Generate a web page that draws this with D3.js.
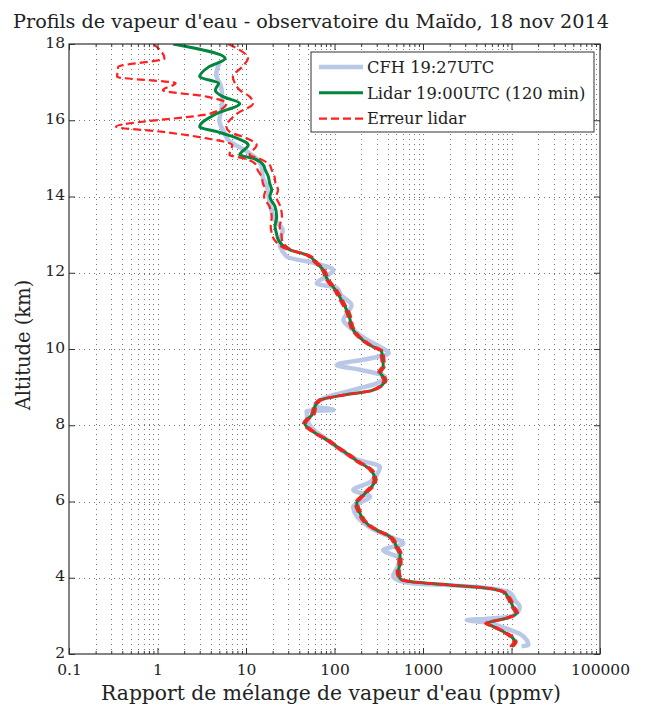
<html>
<head>
<script src="https://d3js.org/d3.v7.min.js"></script>
<style>
body { margin:0; background:#fff; }
text { font-family: "DejaVu Serif", serif; fill:#222; }
</style>
</head>
<body>
<script>
// altitude levels (km) of the lidar profile
var lidarAlt = [18.00,17.62,17.40,17.14,16.97,16.79,16.62,16.44,16.18,15.83,15.70,15.53,15.35,15.09,15.00,
  14.83,14.70,14.52,14.35,14.17,14.00,13.73,13.47,13.21,13.05,12.86,12.60,12.47,12.25,12.07,11.85,11.50,
  11.20,10.94,10.50,10.10,9.93,9.54,9.40,9.19,8.92,8.79,8.66,8.49,8.31,8.05,7.83,7.57,7.44,7.20,7.07,6.81,
  6.55,6.39,6.21,5.95,5.69,5.47,5.25,5.08,4.81,4.64,4.38,4.16,3.98,3.90,3.81,3.74,3.63,3.50,3.24,3.07,
  2.94,2.80,2.72,2.59,2.45,2.32,2.19];
// lidar mixing ratio (ppmv)
var lidarVal = [1.5,5.8,3.8,3.0,4.9,4.5,5.5,8.5,4.7,3.0,4.7,7.9,10.6,8.5,12,
  15.7,16.5,17.9,18.5,19.5,18.6,21.3,22.2,21.3,22,23.2,31.4,48.5,63,75,82,106,
  125,143,163,252,341,356,326,372,274,126,68.5,60,57.5,46,57.5,89,106,150,178,263,
  287,263,221,178,194,221,300,424,504,550,550,525,550,713,2020,4800,8070,9130,10400,11400,
  8830,5250,6240,8070,10000,10960,10000];
// lidar error envelope, lower and upper bounds (ppmv)
var errLow = [0.9,1.2,0.36,0.35,1.6,1.15,3.6,6.0,4.0,0.34,1.1,3.5,7.0,6.5,9.5,
  13,13.5,15,15.5,16.5,16,18.5,19.5,19,19.5,21,30.1,46.6,60.5,72,78.7,101.8,
  120,137,156.5,242,327,342,313,357,263,121,65.8,57.6,55.2,44.2,55.2,85.4,101.8,144,171,252,
  276,252,212,171,186,212,288,407,484,528,528,504,528,684,1940,4610,7750,8760,9980,10940,
  8480,5040,5990,7750,9600,10520,9600];
var errHigh = [6.3,10.5,9.0,7.1,7.5,8.5,11,12,8.0,6.0,6.5,10.1,13.2,11,14,
  18.5,19.5,21,21.5,23,22,24.5,25.5,24,25,25.5,32.7,50.4,65.5,78,85.3,110.2,
  130,149,169.5,262,355,370,339,387,285,131,71.2,62.4,59.8,47.8,59.8,92.6,110.2,156,185,274,
  298,274,230,185,202,230,312,441,524,572,572,546,572,742,2100,4990,8390,9500,10820,11860,
  9180,5460,6490,8390,10400,11400,10400];
// CFH sonde profile
var cfhAlt = [17.50,17.20,16.90,16.60,16.30,16.00,15.70,15.45,15.20,15.00,14.80,14.50,14.30,14.00,13.70,13.40,
  13.12,12.80,12.42,12.25,12.07,11.90,11.72,11.60,11.40,11.15,10.95,10.76,10.50,10.25,10.06,9.89,9.75,9.58,
  9.45,9.27,9.10,8.97,8.80,8.66,8.50,8.40,8.37,8.10,7.90,7.60,7.40,7.10,6.91,6.70,6.50,6.30,6.13,5.86,
  5.60,5.30,5.10,4.90,4.73,4.50,4.30,4.03,3.92,3.85,3.80,3.74,3.59,3.40,3.24,3.00,2.92,2.89,2.82,2.70,
  2.53,2.35,2.24,2.20];
var cfhVal = [5.0,4.6,5.2,5.4,5.3,5.0,5.6,6.5,10,13,15,15.5,17,18,19,21,
  26,24,29,60,97,80,63,106,120,156,140,126,163,230,325,410,250,106,
  200,372,300,194,100,68.5,60,97,48.5,50,57,85,110,180,326,300,250,163,252,163,
  180,260,400,598,356,550,520,460,550,800,2200,5000,9800,11000,12400,10400,5000,3120,5500,8000,
  12400,15000,15500,13000];

var xMajor = [0.1,1,10,100,1000,10000,100000];
var xLabels = ["0.1","1","10","100","1000","10000","100000"];
var yMajor = [2,4,6,8,10,12,14,16,18];
var legendKeys = ["CFH 19:27UTC","Lidar 19:00UTC (120 min)","Erreur lidar"];

var width = 662, height = 714;
var margin = {top:44, right:62, bottom:60, left:69};
var w = width - margin.left - margin.right;
var h = height - margin.top - margin.bottom;

var x = d3.scaleLog().domain([0.1, 100000]).range([0, w]);
var y = d3.scaleLinear().domain([2, 18]).range([h, 0]);

var xMinor = [];
for (var k = -1; k < 5; k++) {
  for (var m = 2; m < 10; m++) xMinor.push(m * Math.pow(10, k));
}

var svg = d3.select("body").append("svg")
    .attr("width", width)
    .attr("height", height);
var g = svg.append("g")
    .attr("transform", "translate(" + margin.left + "," + margin.top + ")");

var defs = svg.append("defs");
defs.append("clipPath").attr("id", "clip")
  .append("rect").attr("width", w).attr("height", h);

// grid
var grid = g.append("g").attr("stroke", "#666").attr("stroke-width", 0.9)
    .attr("stroke-dasharray", "1,4");
grid.selectAll(".gx").data(xMajor.concat(xMinor).filter(function(d){ return d > 0.1 && d < 100000; }))
  .enter().append("line")
    .attr("x1", function(d){ return Math.round(x(d)) + 0.5; })
    .attr("x2", function(d){ return Math.round(x(d)) + 0.5; })
    .attr("y1", 0).attr("y2", h);
grid.selectAll(".gy").data(yMajor.slice(1, -1))
  .enter().append("line")
    .attr("y1", function(d){ return Math.round(y(d)) + 0.5; })
    .attr("y2", function(d){ return Math.round(y(d)) + 0.5; })
    .attr("x1", 0).attr("x2", w);

// profiles
var plot = g.append("g").attr("clip-path", "url(#clip)");
var line = d3.line()
    .curve(d3.curveMonotoneY)
    .x(function(d){ return x(d[0]); })
    .y(function(d){ return y(d[1]); });

var cfh = cfhVal.map(function(v, i){ return [v, cfhAlt[i]]; });
var lidar = lidarVal.map(function(v, i){ return [v, lidarAlt[i]]; });
var lo = errLow.map(function(v, i){ return [v, lidarAlt[i]]; });
var hi = errHigh.map(function(v, i){ return [v, lidarAlt[i]]; });

plot.append("path").datum(cfh).attr("d", line)
  .attr("fill", "none").attr("stroke", "#b9c8e6").attr("stroke-width", 4.5)
  .attr("stroke-linejoin", "round");
plot.append("path").datum(lidar).attr("d", line)
  .attr("fill", "none").attr("stroke", "#00873d").attr("stroke-width", 3)
  .attr("stroke-linejoin", "round");
[lo, hi].forEach(function(dat){
  plot.append("path").datum(dat).attr("d", line)
    .attr("fill", "none").attr("stroke", "#ff2020").attr("stroke-width", 2.2)
    .attr("stroke-dasharray", "8,4");
});

// axes with inward ticks
function style(sel) {
  sel.select(".domain").remove();
  sel.selectAll("line").attr("stroke", "#333");
  sel.selectAll("text").attr("font-size", 15.5).attr("font-family", "DejaVu Serif").attr("fill", "#222");
}
g.append("g").attr("transform", "translate(0," + h + ")")
  .call(d3.axisBottom(x).tickValues(xMajor).tickSize(-6).tickPadding(10)
    .tickFormat(function(d, i){ return xLabels[i]; }))
  .call(style);
g.append("g").attr("transform", "translate(0," + h + ")")
  .call(d3.axisBottom(x).tickValues(xMinor).tickSize(-3).tickFormat(""))
  .call(style);
g.append("g")
  .call(d3.axisTop(x).tickValues(xMajor).tickSize(-6).tickFormat(""))
  .call(style);
g.append("g")
  .call(d3.axisTop(x).tickValues(xMinor).tickSize(-3).tickFormat(""))
  .call(style);
g.append("g")
  .call(d3.axisLeft(y).tickValues(yMajor).tickSize(-6).tickPadding(4))
  .call(style)
  .selectAll("text").attr("dy", "0.2em");
g.append("g").attr("transform", "translate(" + w + ",0)")
  .call(d3.axisRight(y).tickValues(yMajor).tickSize(-6).tickFormat(""))
  .call(style);

g.append("rect").attr("width", w).attr("height", h)
  .attr("fill", "none").attr("stroke", "#333").attr("stroke-width", 1.2);

// legend
var lg = g.append("g").attr("transform", "translate(242,8)");
lg.append("rect").attr("width", 283).attr("height", 80)
  .attr("fill", "#fff").attr("stroke", "#333").attr("stroke-width", 1);
var legStroke = ["#b9c8e6", "#00873d", "#ff2020"];
var legWidth = [4.5, 3, 2.2];
var legDash = [null, null, "8,4"];
var item = lg.selectAll(".item").data(legendKeys).enter().append("g")
  .attr("transform", function(d, i){ return "translate(0," + (15 + i * 25.8) + ")"; });
item.append("line").attr("x1", 8).attr("x2", 52)
  .attr("stroke", function(d, i){ return legStroke[i]; })
  .attr("stroke-width", function(d, i){ return legWidth[i]; })
  .attr("stroke-dasharray", function(d, i){ return legDash[i]; });
item.append("text").attr("x", 56).attr("dy", "0.35em")
  .attr("font-size", 16.3).text(function(d){ return d; });

// titles
svg.append("text").attr("x", 311).attr("y", 28)
  .attr("text-anchor", "middle").attr("font-size", 19.2)
  .text("Profils de vapeur d'eau - observatoire du Maïdo, 18 nov 2014");
svg.append("text").attr("x", 331).attr("y", 700)
  .attr("text-anchor", "middle").attr("font-size", 20.3)
  .text("Rapport de mélange de vapeur d'eau (ppmv)");
svg.append("text")
  .attr("transform", "translate(30," + (margin.top + h / 2 - 4) + ") rotate(-90)")
  .attr("text-anchor", "middle").attr("font-size", 19.5)
  .text("Altitude (km)");
</script>
</body>
</html>
